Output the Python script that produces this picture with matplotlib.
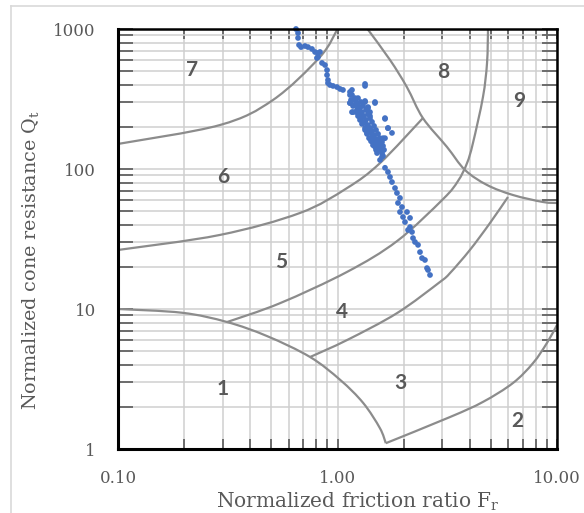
import matplotlib.pyplot as plt
from matplotlib.lines import Line2D
from matplotlib.patches import PathPatch
from matplotlib.path import Path
from matplotlib.ticker import FixedLocator, FixedFormatter, NullFormatter
import numpy as np

plt.rcParams['font.family'] = 'DejaVu Serif'
plt.rcParams['mathtext.fontset'] = 'dejavuserif'

# CPT data (normalized friction ratio Fr [%], normalized cone resistance Qt)
fr = [0.647, 0.661, 0.661, 0.668, 0.682, 0.711, 0.734, 0.765, 0.790, 0.815,
      0.832, 0.815, 0.806, 0.850, 0.877, 0.896, 0.896, 0.905, 0.905, 0.924,
      0.954, 0.995, 1.027, 1.059, 1.335, 1.140, 1.164, 1.177, 1.140, 1.202,
      1.240, 1.335, 1.482, 1.227, 1.164, 1.266, 1.293, 1.377, 1.406, 1.646,
      1.335, 1.363, 1.698, 1.363, 1.436, 1.646, 1.482, 1.530,
      1.164, 1.335, 1.140, 1.202, 1.335, 1.482, 1.140, 1.240, 1.377, 1.177,
      1.406, 1.266, 1.646, 1.307, 1.698, 1.335, 1.771, 1.377, 1.436, 1.612,
      1.451, 1.562, 1.482, 1.562, 1.514, 1.595, 1.562, 1.646, 1.698, 1.734,
      1.771, 1.828, 1.866, 1.926, 1.886, 1.967, 1.926, 2.073, 1.988, 2.140,
      2.030, 2.095, 2.185, 2.140, 2.208, 2.254, 2.327, 2.376, 2.427, 2.503,
      2.557, 2.584, 2.639,
      1.202, 1.227, 1.266, 1.293, 1.321, 1.349, 1.377, 1.406, 1.436, 1.467,
      1.498, 1.530, 1.545, 1.578, 1.595, 1.612,
      1.240, 1.280, 1.307, 1.349, 1.377, 1.406, 1.436, 1.467, 1.498, 1.530,
      1.562, 1.595, 1.612, 1.629,
      1.152, 1.177, 1.214, 1.240, 1.266, 1.293, 1.335, 1.363, 1.392, 1.421,
      1.451, 1.498]
qt = [1000, 936, 863, 769, 743, 756, 743, 720, 685, 674,
      685, 631, 621, 572, 553, 509, 469, 432, 411, 398,
      392, 385, 373, 367, 405, 355, 338, 311, 296, 287,
      277, 301, 296, 264, 255, 251, 235, 273, 239, 228,
      213, 196, 196, 181, 166, 166, 153, 144,
      367, 392, 338, 321, 306, 301, 296, 287, 277, 255,
      255, 235, 231, 217, 196, 196, 181, 184, 175, 166,
      161, 156, 144, 137, 130, 122, 116, 102, 95.2, 87.7,
      80.7, 73.1, 67.4, 62.1, 57.2, 53.5, 49.3, 49.3, 45.4, 44.7,
      41.8, 36.7, 35.5, 38.5, 32.1, 30.1, 28.7, 25.5, 23.1, 22.4,
      19.6, 19.0, 17.5,
      311, 296, 273, 255, 239, 224, 206, 196, 187, 175,
      164, 153, 146, 137, 130, 124,
      321, 301, 282, 264, 247, 231, 217, 203, 190, 178,
      166, 156, 146, 137,
      311, 282, 255, 239, 224, 210, 190, 178, 166, 158,
      148, 137]

# Soil behaviour type zone boundaries
b1_fr = [0.1, 0.196, 0.314, 0.477, 0.75, 1.03, 1.31, 1.56, 1.66]
b1_qt = [10, 9.4, 8.07, 6.41, 4.54, 3.11, 2.13, 1.41, 1.10]

b23_fr = [1.66, 3.25, 4.6, 6.3, 7.78, 9.0, 10]
b23_qt = [1.10, 1.69, 2.17, 2.96, 4.11, 5.72, 7.69]

b34_fr = [0.75, 1.105, 1.87, 2.93, 3.26, 4.01, 4.95, 5.98]
b34_qt = [4.54, 6.0, 9.36, 15.6, 18.1, 26.4, 41.1, 63.1]

b45_fr = [0.314, 0.547, 1.105, 1.87, 3.03, 3.54, 3.89, 4.14, 4.60, 4.80, 4.85]
b45_qt = [8.07, 11.0, 18.4, 30.6, 61.1, 82.1, 110, 153, 327, 572, 1000]

b56_fr = [0.1, 0.291, 0.674, 1.105, 1.56, 2.45]
b56_qt = [26.4, 33.8, 48.5, 73.1, 110, 231]

b67_fr = [0.1, 0.291, 0.508, 0.832, 1.0]
b67_qt = [151, 206, 311, 631, 1000]

b8_fr = [1.37, 1.735, 2.07, 2.45, 3.15, 3.81, 4.8, 6.3, 8.64, 10]
b8_qt = [1000, 601, 385, 231, 144, 98.4, 76.9, 65.2, 58.1, 57.2]

zone_names = ['1', '2', '3', '4', '5', '6', '7', '8', '9']
zone_fr = [0.301, 6.57, 1.926, 1.048, 0.553, 0.301, 0.217, 3.02, 6.71]
zone_qt = [2.68, 1.585, 2.96, 9.52, 21.7, 87.7, 509, 493, 306]


def smooth_path(xs, ys):
    # cubic bezier (catmull-rom) through the read points, built in log space;
    # the log transform keeps the curve codes
    p = np.log10(np.column_stack([xs, ys]))
    ext = np.vstack([p[0], p, p[-1]])
    verts = [p[0]]
    codes = [Path.MOVETO]
    for i in range(len(p) - 1):
        p0, p1, p2, p3 = ext[i], ext[i + 1], ext[i + 2], ext[i + 3]
        verts += [p1 + (p2 - p0) / 6, p2 - (p3 - p1) / 6, p2]
        codes += [Path.CURVE4] * 3
    return Path(10 ** np.array(verts), codes)


fig = plt.figure(figsize=(5.84, 5.13), dpi=100)
ax = fig.add_axes([118 / 584, 1 - 449 / 513, 439 / 584, 420 / 513])
ax.set_xscale('log')
ax.set_yscale('log')
ax.set_xlim(0.1, 10)
ax.set_ylim(1, 1000)

# grid
ax.grid(True, which='both', color='#cfcfcf', linewidth=1.1, zorder=0)
ax.set_axisbelow(True)

# boundaries
for bx, by in [(b1_fr, b1_qt), (b23_fr, b23_qt), (b34_fr, b34_qt),
               (b45_fr, b45_qt), (b56_fr, b56_qt), (b67_fr, b67_qt),
               (b8_fr, b8_qt)]:
    ax.add_patch(PathPatch(smooth_path(bx, by), fill=False,
                           edgecolor='#8c8c8c', linewidth=1.6, zorder=2))

for name, zx, zy in zip(zone_names, zone_fr, zone_qt):
    ax.text(zx, zy, name, ha='center', va='center', fontsize=15,
            family='Lato', fontweight='bold', color='#595959', zorder=3)

ax.scatter(fr, qt, s=17, color='#4472C4', edgecolors='none', zorder=5,
           clip_on=False)

# ticks
ax.xaxis.set_major_locator(FixedLocator([0.1, 1, 10]))
ax.xaxis.set_major_formatter(FixedFormatter(['0.10', '1.00', '10.00']))
ax.yaxis.set_major_locator(FixedLocator([1, 10, 100, 1000]))
ax.yaxis.set_major_formatter(FixedFormatter(['1', '10', '100', '1000']))
ax.xaxis.set_minor_formatter(NullFormatter())
ax.yaxis.set_minor_formatter(NullFormatter())

ax.tick_params(axis='x', which='both', direction='in', length=7, width=1.2,
               color='#595959', top=True, pad=15, labelsize=12,
               labelcolor='#595959')
ax.tick_params(axis='y', which='both', direction='in', length=11, width=1.2,
               color='#595959', right=True, pad=16, labelsize=12,
               labelcolor='#595959')

for side, spine in ax.spines.items():
    spine.set_color('black')
    spine.set_linewidth(2.2 if side in ('left', 'bottom') else 1.8)
    spine.set_zorder(6)

ax.set_xlabel(r'Normalized friction ratio F$_\mathregular{r}$', fontsize=14.5,
              color='#595959')
ax.set_ylabel(r'Normalized cone resistance Q$_\mathregular{t}$', fontsize=13.8,
              color='#595959')
ax.xaxis.set_label_coords(0.547, -0.1)
ax.yaxis.set_label_coords(-0.175, 0.45)

# chart frame
fig.add_artist(Line2D([11 / 584, 1], [1 - 6 / 513, 1 - 6 / 513],
                      color='#d9d9d9', linewidth=1.2))
fig.add_artist(Line2D([11 / 584, 11 / 584], [0, 1 - 6 / 513],
                      color='#d9d9d9', linewidth=1.2))

fig.savefig('out.png', dpi=100)
plt.close(fig)
